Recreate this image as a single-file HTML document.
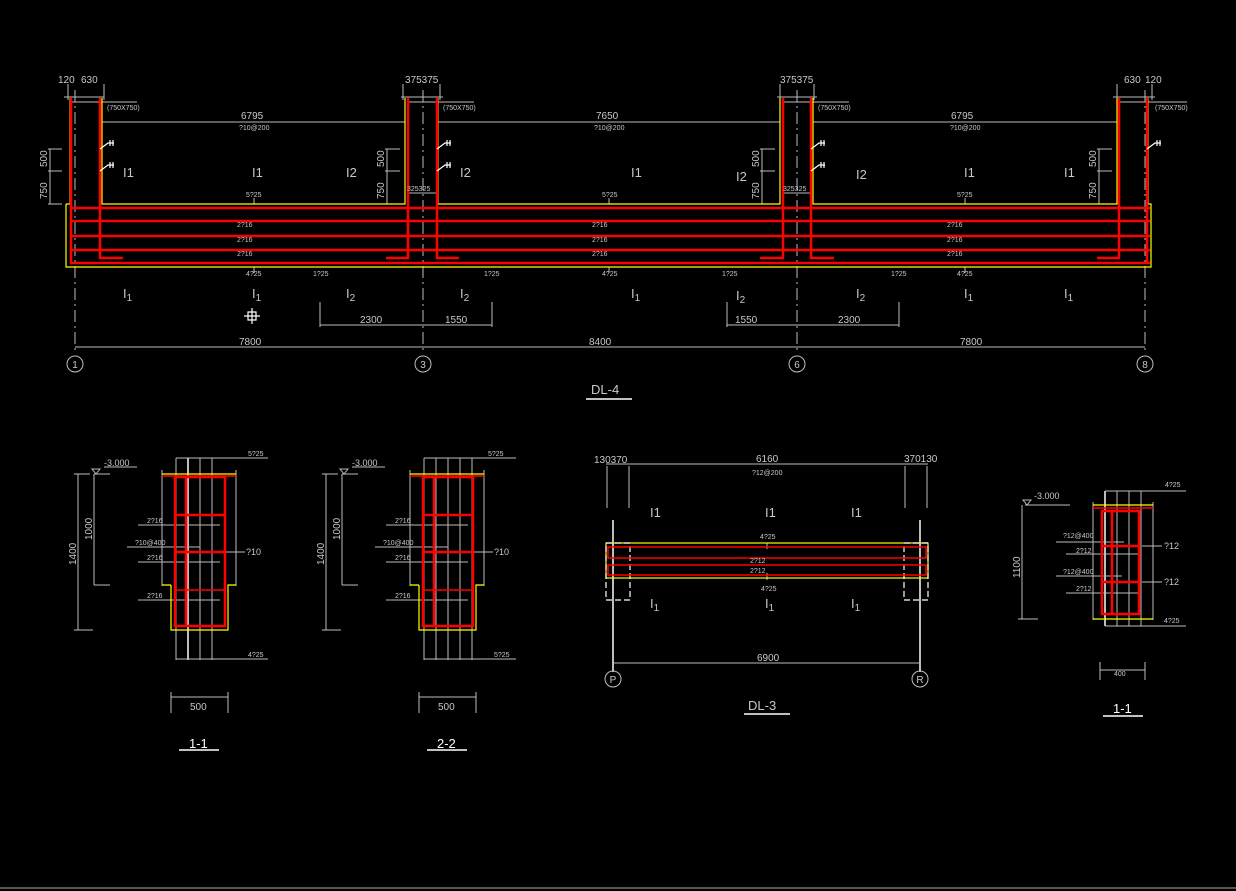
<!DOCTYPE html>
<html><head><meta charset="utf-8"><style>
html,body{margin:0;padding:0;background:#000;width:1236px;height:891px;overflow:hidden}
svg{display:block}
text{font-family:"Liberation Sans",sans-serif;fill:#c8c8c8}
.g{stroke:#bdbdbd;stroke-width:1;fill:none}
.gd{stroke:#bdbdbd;stroke-width:1;fill:none;stroke-dasharray:12 4 2 4}
.y{stroke:#ffff00;stroke-width:1.2;fill:none}
.r{stroke:#ff0000;stroke-width:2.5;fill:none}
.r1{stroke:#ff0000;stroke-width:1.5;fill:none}
.w{stroke:#fff;stroke-width:1.2;fill:none}
.wd{stroke:#fff;stroke-width:1.2;fill:none;stroke-dasharray:6 3}
.s{font-size:7px}
.m{font-size:10px}
.l{font-size:13px;fill:#fff}
</style></head><body>
<svg width="1236" height="891" viewBox="0 0 1236 891">
<rect x="0" y="0" width="1236" height="891" fill="#000"/>
<line x1="0" y1="888" x2="1236" y2="888" stroke="#555" stroke-width="2"/>

<!-- ===== DL-4 ===== -->
<!-- axes -->
<g class="gd"><line x1="75" y1="90" x2="75" y2="352"/><line x1="423" y1="90" x2="423" y2="352"/><line x1="797" y1="90" x2="797" y2="352"/><line x1="1145" y1="90" x2="1145" y2="352"/></g>
<!-- top dims -->
<g class="g">
<line x1="64" y1="97" x2="104" y2="97"/><line x1="68" y1="84" x2="68" y2="100"/><line x1="104" y1="84" x2="104" y2="100"/>
<line x1="401" y1="97" x2="443" y2="97"/><line x1="403" y1="84" x2="403" y2="100"/><line x1="440" y1="84" x2="440" y2="100"/>
<line x1="777" y1="97" x2="817" y2="97"/><line x1="780" y1="84" x2="780" y2="100"/><line x1="814" y1="84" x2="814" y2="100"/>
<line x1="1113" y1="97" x2="1155" y2="97"/><line x1="1117" y1="84" x2="1117" y2="100"/><line x1="1152" y1="84" x2="1152" y2="100"/>
<line x1="70" y1="102" x2="137" y2="102"/><line x1="407" y1="102" x2="474" y2="102"/><line x1="782" y1="102" x2="849" y2="102"/><line x1="1120" y1="102" x2="1187" y2="102"/>
<line x1="102" y1="122" x2="405" y2="122"/><line x1="438" y1="122" x2="780" y2="122"/><line x1="813" y1="122" x2="1117" y2="122"/>
<line x1="48" y1="149" x2="62" y2="149"/><line x1="48" y1="171" x2="62" y2="171"/><line x1="48" y1="204" x2="62" y2="204"/><line x1="50" y1="149" x2="50" y2="204"/>
<line x1="385" y1="149" x2="400" y2="149"/><line x1="385" y1="171" x2="400" y2="171"/><line x1="385" y1="204" x2="400" y2="204"/><line x1="387" y1="149" x2="387" y2="204"/>
<line x1="760" y1="149" x2="775" y2="149"/><line x1="760" y1="171" x2="775" y2="171"/><line x1="760" y1="204" x2="775" y2="204"/><line x1="762" y1="149" x2="762" y2="204"/>
<line x1="1097" y1="149" x2="1112" y2="149"/><line x1="1097" y1="171" x2="1112" y2="171"/><line x1="1097" y1="204" x2="1112" y2="204"/><line x1="1099" y1="149" x2="1099" y2="204"/>
<line x1="407" y1="193" x2="437" y2="193"/><line x1="783" y1="193" x2="812" y2="193"/>
<line x1="254" y1="198" x2="254" y2="204"/><line x1="609" y1="198" x2="609" y2="204"/><line x1="965" y1="198" x2="965" y2="204"/>
<line x1="254" y1="267" x2="254" y2="273"/><line x1="609" y1="267" x2="609" y2="273"/><line x1="965" y1="267" x2="965" y2="273"/>
<line x1="320" y1="302" x2="320" y2="327"/><line x1="492" y1="302" x2="492" y2="327"/><line x1="320" y1="325" x2="492" y2="325"/>
<line x1="727" y1="302" x2="727" y2="327"/><line x1="899" y1="302" x2="899" y2="327"/><line x1="727" y1="325" x2="899" y2="325"/>
<line x1="75" y1="347" x2="1145" y2="347"/>
</g>
<g class="g"><circle cx="75" cy="364" r="8"/><circle cx="423" cy="364" r="8"/><circle cx="797" cy="364" r="8"/><circle cx="1145" cy="364" r="8"/></g>
<text x="75" y="368" class="m" text-anchor="middle">1</text><text x="423" y="368" class="m" text-anchor="middle">3</text><text x="797" y="368" class="m" text-anchor="middle">6</text><text x="1145" y="368" class="m" text-anchor="middle">8</text>
<!-- yellow outline -->
<path class="y" d="M66 204 V267 H1151 V204 H1148 V98 M102 98 V204 H405 V98 M438 98 V204 H780 V98 M813 98 V204 H1117 V98 M70 98 V204 H66 M1148 204 H1151"/>
<!-- red -->
<g class="r">
<line x1="70" y1="208" x2="1150" y2="208"/><line x1="70" y1="221" x2="1150" y2="221"/><line x1="70" y1="236" x2="1150" y2="236"/><line x1="70" y1="250" x2="1150" y2="250"/><line x1="70" y1="263" x2="1150" y2="263"/>
<polyline points="71,98 71,262"/><polyline points="100,98 100,258 123,258"/>
<polyline points="386,258 408,258 408,98"/><polyline points="437,98 437,258 459,258"/>
<polyline points="760,258 783,258 783,98"/><polyline points="811,98 811,258 834,258"/>
<polyline points="1097,258 1119,258 1119,98"/><polyline points="1147,98 1147,262"/>
</g>
<!-- stirrup ticks -->
<g class="w"><path d="M100 149 l8 -6 h6 M110 140 v6 M113 140 v6 M100 171 l8 -6 h6 M110 162 v6 M113 162 v6"/>
<path d="M437 149 l8 -6 h6 M447 140 v6 M450 140 v6 M437 171 l8 -6 h6 M447 162 v6 M450 162 v6"/>
<path d="M811 149 l8 -6 h6 M821 140 v6 M824 140 v6 M811 171 l8 -6 h6 M821 162 v6 M824 162 v6"/>
<path d="M1147 149 l8 -6 h6 M1157 140 v6 M1160 140 v6"/>
<path d="M244 316 h16 M252 308 v16 M248 312 h8 v8 h-8 z"/></g>
<!-- texts -->
<g class="m"><text x="58" y="83">120</text><text x="81" y="83">630</text><text x="405" y="83">375375</text><text x="780" y="83">375375</text><text x="1124" y="83">630</text><text x="1145" y="83">120</text>
<text x="241" y="119">6795</text><text x="596" y="119">7650</text><text x="951" y="119">6795</text>
<text x="589" y="345">8400</text><text x="239" y="345">7800</text><text x="960" y="345">7800</text>
<text x="360" y="323">2300</text><text x="445" y="323">1550</text><text x="735" y="323">1550</text><text x="838" y="323">2300</text>
<text x="407" y="191" class="s">325325</text><text x="783" y="191" class="s">325325</text>
<text transform="translate(47,167) rotate(-90)">500</text><text transform="translate(47,199) rotate(-90)">750</text>
<text transform="translate(384,167) rotate(-90)">500</text><text transform="translate(384,199) rotate(-90)">750</text>
<text transform="translate(759,167) rotate(-90)">500</text><text transform="translate(759,199) rotate(-90)">750</text>
<text transform="translate(1096,167) rotate(-90)">500</text><text transform="translate(1096,199) rotate(-90)">750</text>
</g>
<g class="s"><text x="107" y="110">(750X750)</text><text x="443" y="110">(750X750)</text><text x="818" y="110">(750X750)</text><text x="1155" y="110">(750X750)</text>
<text x="239" y="130">?10@200</text><text x="594" y="130">?10@200</text><text x="950" y="130">?10@200</text>
<text x="246" y="197">5?25</text><text x="602" y="197">5?25</text><text x="957" y="197">5?25</text>
<text x="237" y="227">2?16</text><text x="237" y="242">2?16</text><text x="237" y="256">2?16</text>
<text x="592" y="227">2?16</text><text x="592" y="242">2?16</text><text x="592" y="256">2?16</text>
<text x="947" y="227">2?16</text><text x="947" y="242">2?16</text><text x="947" y="256">2?16</text>
<text x="246" y="276">4?25</text><text x="602" y="276">4?25</text><text x="957" y="276">4?25</text>
<text x="313" y="276">1?25</text><text x="484" y="276">1?25</text><text x="722" y="276">1?25</text><text x="891" y="276">1?25</text>
</g>
<g class="l"><text x="123" y="177">I1</text><text x="252" y="177">I1</text><text x="346" y="177">I2</text><text x="460" y="177">I2</text><text x="631" y="177">I1</text><text x="736" y="181">I2</text><text x="856" y="179">I2</text><text x="964" y="177">I1</text><text x="1064" y="177">I1</text>
<text x="123" y="298">I<tspan font-size="10" dy="3">1</tspan></text><text x="252" y="298">I<tspan font-size="10" dy="3">1</tspan></text><text x="346" y="298">I<tspan font-size="10" dy="3">2</tspan></text><text x="460" y="298">I<tspan font-size="10" dy="3">2</tspan></text><text x="631" y="298">I<tspan font-size="10" dy="3">1</tspan></text><text x="736" y="300">I<tspan font-size="10" dy="3">2</tspan></text><text x="856" y="298">I<tspan font-size="10" dy="3">2</tspan></text><text x="964" y="298">I<tspan font-size="10" dy="3">1</tspan></text><text x="1064" y="298">I<tspan font-size="10" dy="3">1</tspan></text>
<text x="591" y="394">DL-4</text></g>
<line x1="586" y1="399" x2="632" y2="399" stroke="#fff" stroke-width="1.5"/>

<!-- ===== Section 1-1 (left) ===== -->
<g id="sec">
<g class="g">
<line x1="94" y1="474" x2="110" y2="474"/><path d="M96 474 l4 -5 h-8 z"/><line x1="104" y1="467" x2="137" y2="467"/>
<line x1="78" y1="474" x2="78" y2="630"/><line x1="74" y1="630" x2="93" y2="630"/><line x1="74" y1="474" x2="90" y2="474"/>
<line x1="94" y1="474" x2="94" y2="585"/><line x1="94" y1="585" x2="110" y2="585"/>
<line x1="176" y1="458" x2="176" y2="660"/><line x1="188" y1="458" x2="188" y2="660" stroke-width="2"/><line x1="200" y1="458" x2="200" y2="660"/><line x1="212" y1="458" x2="212" y2="660"/>
<line x1="176" y1="458" x2="268" y2="458"/><line x1="176" y1="659" x2="268" y2="659"/>
<line x1="162" y1="470" x2="162" y2="586"/><line x1="236" y1="470" x2="236" y2="586"/>
<line x1="138" y1="525" x2="220" y2="525"/><line x1="138" y1="562" x2="220" y2="562"/><line x1="138" y1="600" x2="220" y2="600"/>
<line x1="127" y1="547" x2="200" y2="547"/><line x1="200" y1="547" x2="200" y2="551"/>
<line x1="226" y1="552" x2="245" y2="552"/>
<line x1="171" y1="697" x2="228" y2="697"/><line x1="171" y1="692" x2="171" y2="713"/><line x1="228" y1="692" x2="228" y2="713"/>
</g>
<path class="y" d="M162 474 H236 M171 585 H162 M171 585 V630 H228 V585 H236"/>
<line x1="162" y1="476" x2="236" y2="476" class="r1"/>
<rect x="175" y="477" width="50" height="149" class="r"/>
<line x1="186" y1="477" x2="186" y2="626" class="r"/>
<line x1="175" y1="515" x2="225" y2="515" class="r"/><line x1="175" y1="552" x2="225" y2="552" class="r"/><line x1="175" y1="590" x2="225" y2="590" class="r1"/>
<g class="s"><text x="248" y="456">5?25</text><text x="248" y="657">4?25</text><text x="147" y="523">2?16</text><text x="135" y="545">?10@400</text><text x="147" y="560">2?16</text><text x="147" y="598">2?16</text><text x="246" y="555" font-size="9">?10</text><text x="104" y="466" font-size="9">-3.000</text></g>
<g class="m"><text transform="translate(76,565) rotate(-90)">1400</text><text transform="translate(92,540) rotate(-90)">1000</text><text x="190" y="710">500</text></g>
</g>
<text x="189" y="748" class="l">1-1</text><line x1="179" y1="750" x2="219" y2="750" stroke="#fff" stroke-width="1.5"/>

<!-- Section 2-2 -->
<g transform="translate(248,0)">
<g class="g">
<line x1="94" y1="474" x2="110" y2="474"/><path d="M96 474 l4 -5 h-8 z"/><line x1="104" y1="467" x2="137" y2="467"/>
<line x1="78" y1="474" x2="78" y2="630"/><line x1="74" y1="630" x2="93" y2="630"/><line x1="74" y1="474" x2="90" y2="474"/>
<line x1="94" y1="474" x2="94" y2="585"/><line x1="94" y1="585" x2="110" y2="585"/>
<line x1="176" y1="458" x2="176" y2="660"/><line x1="188" y1="458" x2="188" y2="660"/><line x1="200" y1="458" x2="200" y2="660"/><line x1="212" y1="458" x2="212" y2="660"/><line x1="224" y1="458" x2="224" y2="660"/>
<line x1="176" y1="458" x2="268" y2="458"/><line x1="176" y1="659" x2="268" y2="659"/>
<line x1="162" y1="470" x2="162" y2="586"/><line x1="236" y1="470" x2="236" y2="586"/>
<line x1="138" y1="525" x2="220" y2="525"/><line x1="138" y1="562" x2="220" y2="562"/><line x1="138" y1="600" x2="220" y2="600"/>
<line x1="127" y1="547" x2="200" y2="547"/>
<line x1="226" y1="552" x2="245" y2="552"/>
<line x1="171" y1="697" x2="228" y2="697"/><line x1="171" y1="692" x2="171" y2="713"/><line x1="228" y1="692" x2="228" y2="713"/>
</g>
<path class="y" d="M162 474 H236 M171 585 H162 M171 585 V630 H228 V585 H236"/>
<line x1="162" y1="476" x2="236" y2="476" class="r1"/>
<rect x="175" y="477" width="50" height="149" class="r"/>
<line x1="186" y1="477" x2="186" y2="626" class="r"/>
<line x1="175" y1="515" x2="225" y2="515" class="r"/><line x1="175" y1="552" x2="225" y2="552" class="r"/><line x1="175" y1="590" x2="225" y2="590" class="r1"/>
<g class="s"><text x="240" y="456">5?25</text><text x="246" y="657">5?25</text><text x="147" y="523">2?16</text><text x="135" y="545">?10@400</text><text x="147" y="560">2?16</text><text x="147" y="598">2?16</text><text x="246" y="555" font-size="9">?10</text><text x="104" y="466" font-size="9">-3.000</text></g>
<g class="m"><text transform="translate(76,565) rotate(-90)">1400</text><text transform="translate(92,540) rotate(-90)">1000</text><text x="190" y="710">500</text></g>
</g>
<text x="437" y="748" class="l">2-2</text><line x1="427" y1="750" x2="467" y2="750" stroke="#fff" stroke-width="1.5"/>

<!-- ===== DL-3 ===== -->
<g class="g">
<line x1="606" y1="464" x2="928" y2="464"/>
<line x1="607" y1="466" x2="607" y2="508"/><line x1="629" y1="466" x2="629" y2="508"/><line x1="905" y1="466" x2="905" y2="508"/><line x1="927" y1="466" x2="927" y2="508"/>
<line x1="613" y1="520" x2="613" y2="672" stroke-width="2"/><line x1="920" y1="520" x2="920" y2="672" stroke-width="2"/>
<line x1="613" y1="663" x2="920" y2="663"/>
<line x1="767" y1="543" x2="767" y2="549"/><line x1="767" y1="573" x2="767" y2="580"/>
<circle cx="613" cy="679" r="8"/><circle cx="920" cy="679" r="8"/>
</g>
<text x="613" y="683" class="m" text-anchor="middle">P</text><text x="920" y="683" class="m" text-anchor="middle">R</text>
<rect x="606" y="543" width="322" height="35" class="y"/>
<path class="wd" d="M606 543 H630 V600 H606 Z M904 543 H928 V600 H904 Z"/>
<rect x="608" y="547" width="318" height="11" class="r1" stroke-width="2.2"/>
<rect x="608" y="565" width="318" height="10" class="r1" stroke-width="2.2"/>
<g class="m"><text x="594" y="463">130370</text><text x="756" y="462">6160</text><text x="904" y="462">370130</text><text x="757" y="661">6900</text></g>
<g class="s"><text x="752" y="475">?12@200</text><text x="760" y="539">4?25</text><text x="750" y="563">2?12</text><text x="750" y="573">2?12</text><text x="761" y="591">4?25</text></g>
<g class="l"><text x="650" y="517">I1</text><text x="765" y="517">I1</text><text x="851" y="517">I1</text>
<text x="650" y="608">I<tspan font-size="10" dy="3">1</tspan></text><text x="765" y="608">I<tspan font-size="10" dy="3">1</tspan></text><text x="851" y="608">I<tspan font-size="10" dy="3">1</tspan></text>
<text x="748" y="710">DL-3</text></g>
<line x1="744" y1="714" x2="790" y2="714" stroke="#fff" stroke-width="1.5"/>

<!-- ===== right 1-1 ===== -->
<g class="g">
<line x1="1025" y1="505" x2="1070" y2="505"/><path d="M1027 505 l4 -5 h-8 z"/>
<line x1="1022" y1="505" x2="1022" y2="619"/><line x1="1018" y1="619" x2="1038" y2="619"/>
<line x1="1105" y1="491" x2="1105" y2="626" stroke-width="2"/><line x1="1117" y1="491" x2="1117" y2="626"/><line x1="1129" y1="491" x2="1129" y2="626"/><line x1="1141" y1="491" x2="1141" y2="626"/>
<line x1="1105" y1="491" x2="1186" y2="491"/><line x1="1105" y1="626" x2="1186" y2="626"/>
<line x1="1093" y1="502" x2="1093" y2="620"/><line x1="1153" y1="502" x2="1153" y2="620"/>
<line x1="1056" y1="542" x2="1124" y2="542"/><line x1="1066" y1="554" x2="1140" y2="554"/><line x1="1056" y1="576" x2="1122" y2="576"/><line x1="1066" y1="593" x2="1140" y2="593"/>
<line x1="1142" y1="546" x2="1162" y2="546"/><line x1="1142" y1="582" x2="1162" y2="582"/>
<line x1="1100" y1="670" x2="1145" y2="670"/><line x1="1100" y1="662" x2="1100" y2="680"/><line x1="1145" y1="662" x2="1145" y2="680"/>
</g>
<line x1="1093" y1="505" x2="1153" y2="505" class="y"/><line x1="1093" y1="619" x2="1153" y2="619" class="y"/>
<line x1="1093" y1="508" x2="1153" y2="508" class="r1" stroke-width="1"/>
<rect x="1102" y="511" width="37" height="103" class="r"/>
<line x1="1112" y1="511" x2="1112" y2="614" class="r"/>
<line x1="1102" y1="546" x2="1139" y2="546" class="r"/><line x1="1102" y1="582" x2="1139" y2="582" class="r"/>
<g class="s"><text x="1165" y="487">4?25</text><text x="1164" y="623">4?25</text><text x="1063" y="538">?12@400</text><text x="1076" y="553">2?12</text><text x="1063" y="574">?12@400</text><text x="1076" y="591">2?12</text><text x="1164" y="549" font-size="9">?12</text><text x="1164" y="585" font-size="9">?12</text><text x="1034" y="499" font-size="9">-3.000</text><text x="1114" y="676">400</text></g>
<text transform="translate(1020,578) rotate(-90)" class="m">1100</text>
<text x="1113" y="713" class="l">1-1</text><line x1="1103" y1="716" x2="1143" y2="716" stroke="#fff" stroke-width="1.5"/>
</svg>
</body></html>
